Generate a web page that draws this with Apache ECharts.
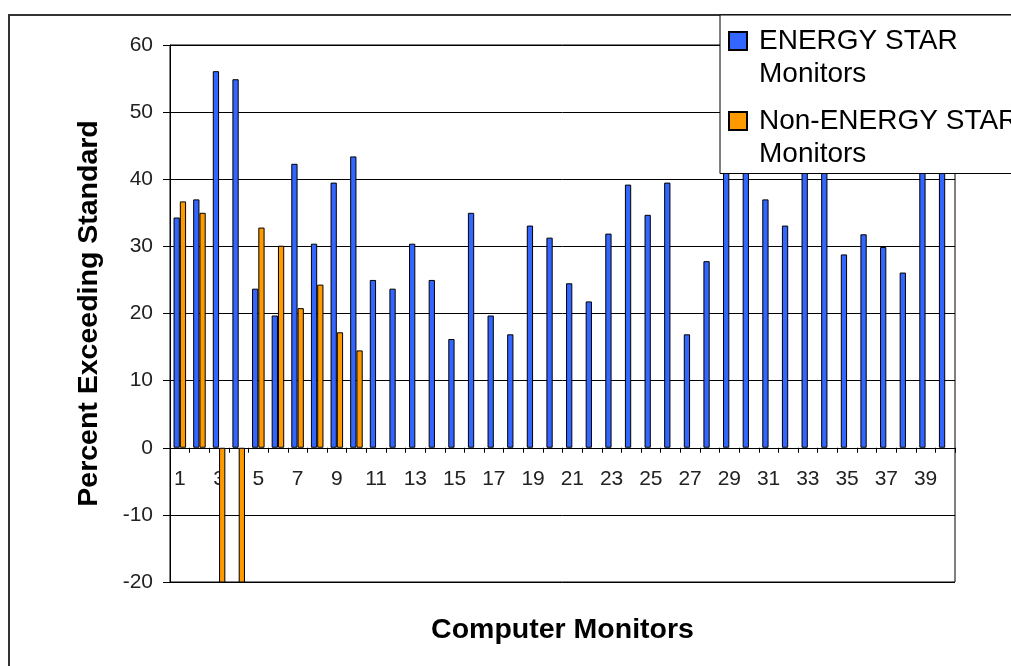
<!DOCTYPE html>
<html>
<head>
<meta charset="utf-8">
<title>Computer Monitors</title>
<script src="https://cdn.jsdelivr.net/npm/echarts@6/dist/echarts.min.js"></script>
<style>
  html, body { margin: 0; padding: 0; background: #fff; }
  #chart { width: 1011px; height: 666px; }
</style>
</head>
<body>
<div id="chart"></div>
<script>
// monitor numbers 1..40
var categories = ['1','2','3','4','5','6','7','8','9','10','11','12','13','14','15','16','17','18','19','20',
  '21','22','23','24','25','26','27','28','29','30','31','32','33','34','35','36','37','38','39','40'];

// ENERGY STAR monitors (29, 30, 33, 34, 39, 40 sit behind the legend)
var energyStar = [34.3, 37.0, 56.1, 54.9, 23.7, 19.7, 42.3, 30.4, 39.5, 43.4,
  25.0, 23.7, 30.4, 25.0, 16.2, 35.0, 19.7, 16.9, 33.1, 31.3,
  24.5, 21.8, 31.9, 39.2, 34.7, 39.5, 16.9, 27.8, 46.0, 52.0,
  37.0, 33.1, 44.0, 48.0, 28.8, 31.8, 29.9, 26.1, 45.0, 50.0];

// non-ENERGY STAR monitors, only the first ten tested (3 and 4 run off the bottom)
var nonEnergyStar = [36.7, 35.0, -25, -25, 32.8, 30.1, 20.8, 24.3, 17.2, 14.5,
  null, null, null, null, null, null, null, null, null, null,
  null, null, null, null, null, null, null, null, null, null,
  null, null, null, null, null, null, null, null, null, null];

var yTicks = { min: -20, max: 60, interval: 10 };

var legendNames = {
  'ENERGY STAR Monitors': 'ENERGY STAR\nMonitors',
  'Non-ENERGY STAR Monitors': 'Non-ENERGY STAR\nMonitors'
};

var font = 'Liberation Sans, Arial, sans-serif';
// square sits on the first text line, the stray moves only stretch the box to 18x66
var legendIcon = 'path://M0,7.5H18V25.5H0Z M0,0 M18,66';

var gridTop = 45;
var gridBottom = 84;
var gridHeight = 666 - gridTop - gridBottom;
// lift the category axis from the grid bottom up to the zero line
var zeroOffset = -gridHeight * (0 - yTicks.min) / (yTicks.max - yTicks.min);

var chart = echarts.init(document.getElementById('chart'));

chart.setOption({
  animation: false,
  backgroundColor: '#fff',
  textStyle: { fontFamily: font },
  graphic: [{
    type: 'rect',
    z: -10,
    shape: { x: 9, y: 15, width: 1200, height: 800 },
    style: { fill: 'none', stroke: '#333', lineWidth: 2 }
  }],
  grid: {
    left: 170,
    right: 56,
    top: gridTop,
    bottom: gridBottom,
    show: true,
    borderColor: '#000',
    borderWidth: 1,
    containLabel: false,
    outerBoundsMode: 'none'
  },
  legend: {
    orient: 'vertical',
    left: 720,
    top: 15,
    padding: [8.5, 10, 2, 8],
    itemGap: 12,
    itemWidth: 18,
    itemHeight: 66,
    icon: legendIcon,
    backgroundColor: '#fff',
    borderColor: '#000',
    borderWidth: 1,
    z: 10,
    textStyle: {
      fontFamily: font,
      fontSize: 28,
      lineHeight: 33,
      color: '#000',
      padding: [0, 0, 0, 7]
    },
    formatter: function(name) {
      return legendNames[name] || name;
    }
  },
  xAxis: {
    type: 'category',
    data: categories,
    position: 'bottom',
    offset: zeroOffset,
    name: 'Computer Monitors',
    nameLocation: 'middle',
    nameGap: 168,
    nameTextStyle: { fontFamily: font, fontSize: 28.5, fontWeight: 'bold', color: '#000' },
    axisLine: { show: true, onZero: false, lineStyle: { color: '#000', width: 1 } },
    axisTick: { show: true, interval: 0, length: 5, lineStyle: { color: '#000' } },
    axisLabel: { interval: 1, margin: 21, fontFamily: font, fontSize: 21, color: '#222' },
    splitLine: { show: false }
  },
  yAxis: {
    type: 'value',
    min: yTicks.min,
    max: yTicks.max,
    interval: yTicks.interval,
    name: 'Percent Exceeding Standard',
    nameLocation: 'middle',
    nameRotate: 90,
    nameGap: 66,
    nameTextStyle: { fontFamily: font, fontSize: 28.5, fontWeight: 'bold', color: '#000' },
    axisLine: { show: true, lineStyle: { color: '#000', width: 1 } },
    axisTick: { show: true, length: 7, lineStyle: { color: '#000' } },
    axisLabel: { margin: 17, fontFamily: font, fontSize: 21, color: '#222' },
    splitLine: { show: true, lineStyle: { color: '#000', width: 1 } }
  },
  series: [{
    name: 'ENERGY STAR Monitors',
    type: 'bar',
    data: energyStar,
    barGap: '0%',
    barCategoryGap: '36%',
    clip: true,
    itemStyle: { color: '#3366ff', borderColor: '#000', borderWidth: 1 }
  }, {
    name: 'Non-ENERGY STAR Monitors',
    type: 'bar',
    data: nonEnergyStar,
    barGap: '0%',
    barCategoryGap: '36%',
    clip: true,
    itemStyle: { color: '#ff9900', borderColor: '#000', borderWidth: 1 }
  }]
});
</script>
</body>
</html>
